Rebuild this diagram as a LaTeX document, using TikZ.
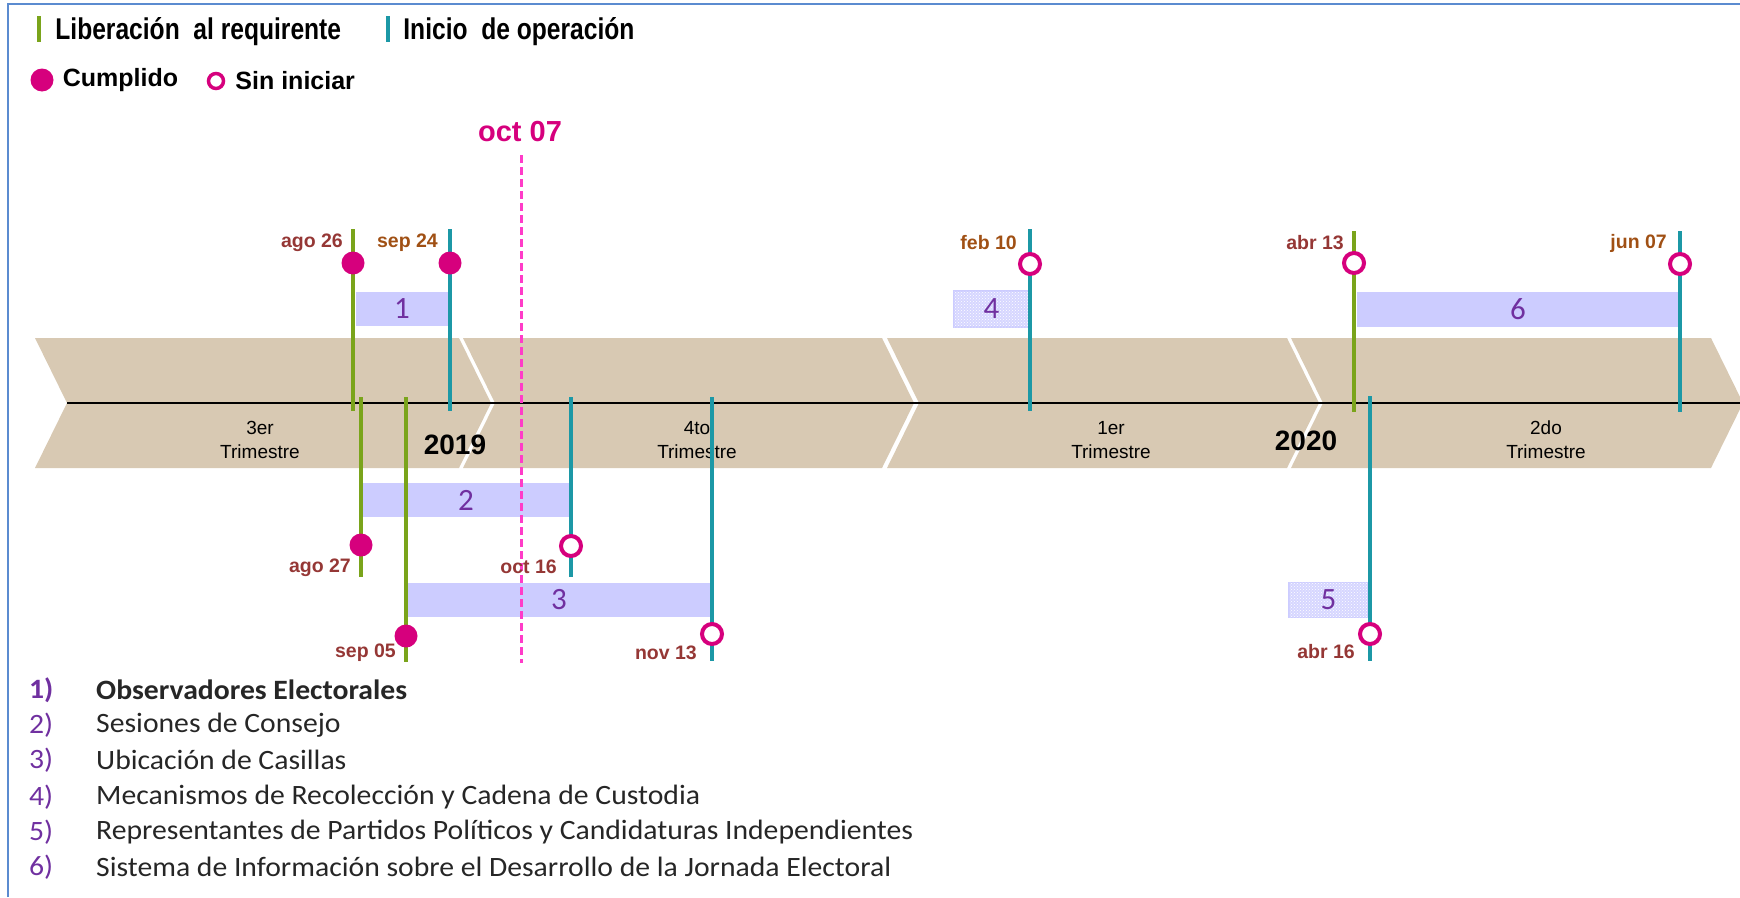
\documentclass[tikz,border=0pt]{standalone}
\usepackage{fontspec}
\newfontfamily\arialf{Liberation Sans}
\newfontfamily\narrowf[FakeStretch=0.82]{Liberation Sans}
\newfontfamily\calibf{Carlito}
\newfontfamily\widecalibf[FakeStretch=1.06]{Carlito}
\usetikzlibrary{positioning,patterns}

\definecolor{libgreen}{RGB}{122,164,27}
\definecolor{initeal}{RGB}{28,152,166}
\definecolor{mag}{RGB}{214,0,125}
\definecolor{pinkdash}{RGB}{255,60,200}
\definecolor{band}{RGB}{216,201,179}
\definecolor{barfill}{RGB}{204,204,255}
\definecolor{hatchbg}{RGB}{214,214,255}
\definecolor{maroon}{RGB}{149,55,53}
\definecolor{rust}{RGB}{160,80,20}
\definecolor{numpurple}{RGB}{112,48,160}
\definecolor{listgray}{RGB}{38,38,38}
\definecolor{frameblue}{RGB}{91,139,208}

\newcommand\chevronshape[2]{%
  \fill[chevron] (#1,338) -- (#2,338) -- ({#2+32},403) -- (#2,468)
    -- (#1,468) -- ({#1+32},403) -- cycle;}

\begin{document}
\begin{tikzpicture}[
        x=1pt, y=-1pt,
        font=\arialf,
        chevron/.style={fill=band},
        axisline/.style={draw=black, line width=2.5},
        libline/.style={draw=libgreen, line width=4.5},
        iniline/.style={draw=initeal, line width=4.5},
        done/.style={circle, fill=mag, inner sep=0, minimum size=23},
        todo/.style={circle, draw=mag, fill=white, line width=4, inner sep=0, minimum size=20},
        datelbl/.style={font=\arialf\bfseries\fontsize{19.5}{21}\selectfont, inner sep=0, anchor=east},
        quarter/.style={font=\arialf\fontsize{19}{24}\selectfont, align=center, inner sep=0},
        year/.style={font=\arialf\bfseries\fontsize{28}{30}\selectfont, inner sep=0},
        bar/.style={
            fill=barfill,
            inner sep=0,
            minimum height=34,
            text=numpurple,
            font=\calibf\fontsize{31}{31}\selectfont
        },
        hatchbar/.style={
            bar,
            fill=hatchbg,
            draw=barfill,
            line width=1.5,
            postaction={pattern=crosshatch dots, pattern color=white}
        },
        legbar/.style={inner sep=0, minimum width=4, minimum height=26},
        legtop/.style={font=\narrowf\bfseries\fontsize{30}{32}\selectfont, inner sep=0},
        legbot/.style={font=\arialf\bfseries\fontsize{25}{27}\selectfont, inner sep=0},
        listnum/.style={font=\widecalibf\fontsize{28}{32}\selectfont, text=numpurple, anchor=west, inner sep=0},
        listitem/.style={font=\widecalibf\fontsize{28}{32}\selectfont, text=listgray, anchor=west, inner sep=0}
    ]
    \useasboundingbox (0,0) rectangle (1740,897);
    \draw[frameblue, line width=2] (8,897) -- (8,4) -- (1740,4);

    % Legend
    \node[legbar, fill=libgreen] (leglib) at (39,29) {};
    \node[legtop, right=14pt of leglib, yshift=-3pt] (leglibtxt) {Liberación~~al requirente};
    \node[legbar, fill=initeal] (legini) at (388,29) {};
    \node[legtop, right=13pt of legini, yshift=-3pt] (leginitxt) {Inicio~~de operación};
    \node[done] (legdone) at (42,80) {};
    \node[legbot, right=9pt of legdone] (legdonetxt) {Cumplido};
    \node[todo, line width=3.5, minimum size=15] (legtodo) at (216,81) {};
    \node[legbot, right=10pt of legtodo] (legtodotxt) {Sin iniciar};

    % Quarters
    \chevronshape{35}{459}
    \chevronshape{463}{882}
    \chevronshape{887}{1287}
    \chevronshape{1291}{1711}
    \coordinate (axisL) at (67,403);
    \coordinate (axisR) at (1740,403);
    \draw[axisline] (axisL) -- (axisR);
    \node[quarter] (q3) at (260,440) {3er\\Trimestre};
    \node[quarter] (q4) at (697,440) {4to\\Trimestre};
    \node[quarter] (q1) at (1111,440) {1er\\Trimestre};
    \node[quarter] (q2) at (1546,440) {2do\\Trimestre};
    \node[year] (y2019) at (455,445) {2019};
    \node[year] (y2020) at (1306,441) {2020};

    % Activity bars
    \node[bar, minimum width=92] (b1) at (402,309) {1};
    \node[bar, minimum width=206] (b2) at (466,500) {2};
    \node[bar, minimum width=302] (b3) at (559,600) {3};
    \node[hatchbar, minimum width=75, minimum height=36] (b4) at (991.5,309) {4};
    \node[hatchbar, minimum width=79, minimum height=35] (b5) at (1328.5,600) {5};
    \node[bar, minimum width=322, minimum height=35] (b6) at (1518,309.5) {6};

    % Today
    \node[font=\arialf\bfseries\fontsize{29}{31}\selectfont, text=mag, inner sep=0] (today) at (520,132) {oct 07};
    \coordinate (todaybot) at (521,663);
    \draw[pinkdash, line width=3, dash pattern=on 8pt off 4pt] (521,155) -- (todaybot);

    % 1) Observadores Electorales
    \coordinate (ago26t) at (353,229);
    \coordinate (ago26b) at (353,411);
    \draw[libline] (ago26t) -- (ago26b);
    \node[done] (ago26) at (353,263) {};
    \node[datelbl, text=maroon] at (343,243) {ago 26};
    \coordinate (sep24t) at (450,229);
    \coordinate (sep24b) at (450,411);
    \draw[iniline] (sep24t) -- (sep24b);
    \node[done] (sep24) at (450,263) {};
    \node[datelbl, text=rust] at (438,243) {sep 24};

    % 2) Sesiones de Consejo
    \coordinate (ago27t) at (361,397);
    \coordinate (ago27b) at (361,577);
    \draw[libline] (ago27t) -- (ago27b);
    \node[done] (ago27) at (361,545) {};
    \node[datelbl, text=maroon] at (351,568) {ago 27};
    \coordinate (oct16t) at (571,397);
    \coordinate (oct16b) at (571,577);
    \draw[iniline] (oct16t) -- (oct16b);
    \node[todo] (oct16) at (571,546) {};
    \node[datelbl, text=maroon] at (557,567) {oct 16};

    % 3) Ubicacion de Casillas
    \coordinate (sep05t) at (406,397);
    \coordinate (sep05b) at (406,662);
    \draw[libline] (sep05t) -- (sep05b);
    \node[done] (sep05) at (406,636) {};
    \node[datelbl, text=maroon] at (396,653) {sep 05};
    \coordinate (nov13t) at (712,397);
    \coordinate (nov13b) at (712,661);
    \draw[iniline] (nov13t) -- (nov13b);
    \node[todo] (nov13) at (712,634) {};
    \node[datelbl, text=maroon] at (697,653) {nov 13};

    % 4) Mecanismos de Recoleccion
    \coordinate (feb10t) at (1030,229);
    \coordinate (feb10b) at (1030,411);
    \draw[iniline] (feb10t) -- (feb10b);
    \node[todo] (feb10) at (1030,264) {};
    \node[datelbl, text=rust] at (1017,243) {feb 10};

    % 5) Representantes
    \coordinate (abr16t) at (1370,396);
    \coordinate (abr16b) at (1370,661);
    \draw[iniline] (abr16t) -- (abr16b);
    \node[todo] (abr16) at (1370,634) {};
    \node[datelbl, text=maroon] at (1355,652) {abr 16};

    % 6) SIJE
    \coordinate (abr13t) at (1354,231);
    \coordinate (abr13b) at (1354,412);
    \draw[libline] (abr13t) -- (abr13b);
    \node[todo] (abr13) at (1354,263) {};
    \node[datelbl, text=maroon] at (1344,243) {abr 13};
    \coordinate (jun07t) at (1680,231);
    \coordinate (jun07b) at (1680,412);
    \draw[iniline] (jun07t) -- (jun07b);
    \node[todo] (jun07) at (1680,264) {};
    \node[datelbl, text=rust] at (1667,243) {jun 07};

    % List of activities
    \node[listnum, font=\widecalibf\bfseries\fontsize{28}{32}\selectfont] (n1) at (29,690) {1)};
    \node[listitem, font=\widecalibf\bfseries\fontsize{28}{32}\selectfont] (t1) at (96,690) {Observadores Electorales};
    \node[listnum] (n2) at (29,725) {2)};
    \node[listitem] (t2) at (96,725) {Sesiones de Consejo};
    \node[listnum] (n3) at (29,760) {3)};
    \node[listitem] (t3) at (96,760) {Ubicación de Casillas};
    \node[listnum] (n4) at (29,797) {4)};
    \node[listitem] (t4) at (96,797) {Mecanismos de Recolección y Cadena de Custodia};
    \node[listnum] (n5) at (29,832) {5)};
    \node[listitem] (t5) at (96,832) {Representantes de Partidos Políticos y Candidaturas Independientes};
    \node[listnum] (n6) at (29,867) {6)};
    \node[listitem] (t6) at (96,867) {Sistema de Información sobre el Desarrollo de la Jornada Electoral};
\end{tikzpicture}
\end{document}
